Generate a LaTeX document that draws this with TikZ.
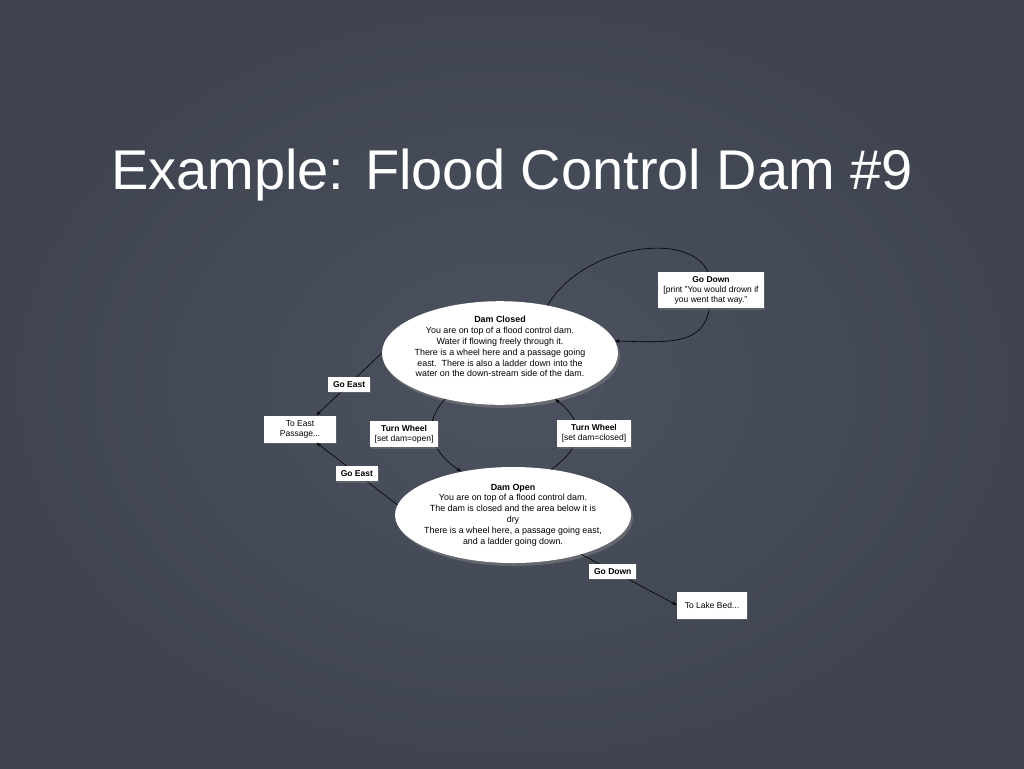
\documentclass[tikz,border=0pt]{standalone}
\usepackage{fontspec}
\setmainfont{Liberation Sans}
\usepackage{tikz}
\usetikzlibrary{arrows.meta,positioning,shapes.geometric,shadows}

\definecolor{slate}{RGB}{76,82,96}
\definecolor{slatedark}{RGB}{63,68,80}

\begin{document}
\begin{tikzpicture}[
    x=1pt, y=-1pt,
    statenode/.style={ellipse, fill=white, inner xsep=-6pt, inner ysep=0pt, align=center,
      minimum width=236pt, minimum height=96pt,
      font=\fontsize{8.9}{10.8}\selectfont,
      drop shadow={shadow xshift=2pt, shadow yshift=-3pt, opacity=0.55}},
    tagbox/.style={fill=white, align=center, inner xsep=5pt, inner ysep=4.5pt,
      font=\fontsize{8.5}{10}\selectfont,
      drop shadow={shadow xshift=1pt, shadow yshift=-1.5pt, opacity=0.4}},
    placebox/.style={tagbox, minimum height=27pt},
    link/.style={draw=black, line width=0.6pt},
    >={Stealth[length=5pt,width=3.5pt]}
  ]
    \useasboundingbox (0,0) rectangle (1024,768);
    \shade[inner color=slate, outer color=slatedark] (0,0) rectangle (1024,768);

    \node[text=white, font=\fontsize{56}{60}\selectfont] (title) at (512,175) {Example: Flood Control Dam \#9};

    % states
    \node[statenode] (closed) at (500,353) {\textbf{Dam Closed}\\You are on top of a flood control dam.\\Water if flowing freely through it.\\There is a wheel here and a passage going\\east.\ \ There is also a ladder down into the\\water on the down-stream side of the dam.\\[2pt]};
    \node[statenode] (open) at (513,515) {\textbf{Dam Open}\\You are on top of a flood control dam.\\The dam is closed and the area below it is\\dry\\There is a wheel here, a passage going east,\\and a ladder going down.};
    \node[placebox, minimum width=72pt] (eastpass) at (300,429) {To East\\Passage...};
    \node[placebox, minimum width=70pt] (lakebed) at (712,605) {To Lake Bed...};

    % transitions
    \draw[link,->] (closed.west) -- (eastpass.40) node[tagbox, midway]{\textbf{Go East}};
    \draw[link,->] (open.175) -- (eastpass.-40) node[tagbox, midway]{\textbf{Go East}};
    \draw[link,->] (closed.220) .. controls (425,420) and (425,447) .. (open.140)
      node[tagbox, pos=0.5, xshift=-28pt]{\textbf{Turn Wheel}\\{[}set dam=open]};
    \draw[link,->] (open.50) .. controls (585,445) and (585,422) .. (closed.-40)
      node[tagbox, pos=0.5, xshift=17pt]{\textbf{Turn Wheel}\\{[}set dam=closed]};
    \draw[link,->] (open.-30) -- (lakebed.west) node[tagbox, pos=0.33]{\textbf{Go Down}};
    \draw[link,->] (closed.45) .. controls (585,240) and (715,225) .. (711,290)
      node[tagbox]{\textbf{Go Down}\\{[}print "You would drown if\\you went that way."}
      .. controls (711,345) and (680,343) .. (closed.6);
\end{tikzpicture}
\end{document}
